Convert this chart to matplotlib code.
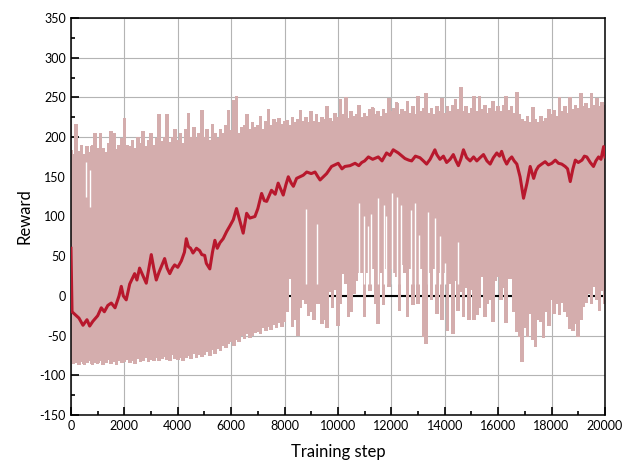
import numpy as np
import matplotlib
matplotlib.use("Agg")
import matplotlib.pyplot as plt
from matplotlib.ticker import MultipleLocator

# raw reward band, read per 100 training steps
band_step = np.arange(0, 20001, 100)
band_top = [
    183, 178, 216, 182, 190, 178, 188, 180, 190, 204,
    185, 204, 186, 180, 192, 207, 205, 184, 190, 198,
    223, 190, 188, 196, 186, 200, 192, 207, 188, 196,
    205, 190, 198, 228, 194, 200, 228, 193, 200, 210,
    196, 205, 192, 210, 230, 200, 212, 198, 205, 234,
    200, 210, 196, 216, 204, 198, 210, 205, 215, 234,
    208, 246, 251, 205, 212, 215, 228, 210, 218, 212,
    215, 226, 210, 220, 235, 215, 222, 218, 224, 216,
    220, 221, 215, 225, 218, 222, 234, 220, 225, 218,
    232, 220, 228, 218, 225, 222, 239, 224, 220, 230,
    225, 247, 228, 250, 224, 232, 226, 228, 240, 225,
    230, 226, 235, 237, 228, 232, 226, 235, 230, 249,
    232, 236, 243, 228, 235, 232, 245, 230, 238, 228,
    251, 232, 236, 255, 230, 236, 228, 238, 232, 248,
    230, 238, 232, 240, 247, 235, 263, 232, 238, 230,
    236, 251, 232, 251, 235, 240, 230, 236, 245, 232,
    238, 232, 240, 251, 234, 238, 230, 256, 228, 222,
    220, 226, 218, 237, 222, 218, 226, 220, 224, 235,
    228, 234, 226, 250, 232, 238, 230, 250, 235, 240,
    236, 255, 238, 242, 236, 255, 240, 248, 238, 244,
    240]
band_low = [
    -82, -85, -84, -87, -83, -86, -84, -81, -86, -84,
    -85, -82, -86, -84, -80, -85, -83, -86, -82, -84,
    -83, -80, -84, -82, -85, -79, -83, -81, -78, -83,
    -80, -82, -77, -81, -79, -76, -80, -82, -74, -79,
    -80, -77, -82, -78, -75, -79, -73, -77, -74, -76,
    -74, -70, -75, -68, -72, -66, -69, -63, -65, -60,
    -57, -62, -55, -58, -50, -54, -48, -52, -50, -46,
    -45, -48, -40, -44, -38, -42, -36, -40, -34, -38,
    -32, -20, 22, -38, -30, -50, -15, -5, -10, -25,
    -20, -30, -10, -10, -35, -30, -40, 5, -15, 8,
    -37, -9, 28, 15, -26, -20, 3, 20, 30, 30,
    -26, 30, 7, 35, -10, -35, 30, -11, 35, 12,
    35, 30, 25, -18, 40, 30, -26, 35, -11, 30,
    -9, 35, -51, -60, 30, -5, 35, -22, 30, -30,
    30, -43, 16, -48, 20, -18, 5, -26, 10, -30,
    8, -30, -24, -15, 24, -26, -9, -5, -32, 20,
    24, -5, 10, -34, 22, 22, -20, -45, -51, -83,
    -40, -51, -22, -55, -64, -30, -32, -53, -20, -37,
    -5, -22, -10, -24, -8, -20, -26, -41, -43, -35,
    -51, -30, -13, -8, 3, -9, 12, -5, -18, 7,
    -9]

# narrow gaps inside the band (steps where no episode covered that range)
gap_step = [575, 720, 8800, 9220, 10790, 10980, 11130, 11230, 11490, 11710,
            11790, 12010, 12200, 12360, 12730, 12880, 13030, 13360, 13630,
            13820, 14010, 14480]
gap_low = [125, 112, 15, 15, 15, 15, 15, 15, 15, 15,
           15, 15, 15, 15, 15, 15, 15, 15, 15,
           15, 15, 15]
gap_high = [168, 158, 110, 91, 117, 100, 88, 103, 123, 114,
            100, 129, 125, 114, 108, 117, 77, 106, 98,
            75, 41, 68]

# smoothed reward
smooth_step = [0, 40, 200, 300, 450, 600, 700, 820, 1000, 1135, 1250, 1380, 1510,
               1650, 1800, 1885, 1960, 2070, 2200, 2385, 2470, 2570, 2700, 2820,
               2920, 3008, 3100, 3195, 3300, 3400, 3508, 3600, 3700, 3800, 3883,
               4000, 4133, 4250, 4320, 4400, 4480, 4570, 4700, 4820, 4900, 5008,
               5070, 5200, 5300, 5390, 5480, 5580, 5700, 5830, 5950, 6080, 6200,
               6320, 6450, 6580, 6700, 6890, 7000, 7140, 7240, 7330, 7510, 7650,
               7760, 7850, 7950, 8050, 8140, 8250, 8330, 8450, 8575, 8700, 8830,
               9000, 9140, 9250, 9330, 9450, 9575, 9760, 9890, 10010, 10150, 10260,
               10450, 10640, 10780, 10890, 11000, 11140, 11300, 11510, 11650, 11820,
               11950, 12070, 12260, 12400, 12510, 12650, 12760, 12900, 13070, 13200,
               13320, 13450, 13630, 13700, 13820, 13950, 14070, 14200, 14320, 14420,
               14510, 14600, 14700, 14820, 14950, 15080, 15200, 15320, 15450, 15580,
               15700, 15820, 15950, 16050, 16130, 16230, 16320, 16420, 16510, 16600,
               16700, 16820, 16950, 17080, 17200, 17330, 17420, 17510, 17630, 17760,
               17880, 18010, 18140, 18260, 18380, 18510, 18600, 18700, 18800, 18890,
               19000, 19140, 19230, 19320, 19450, 19570, 19660, 19760, 19850, 19950,
               20000]
smooth_reward = [60, -20, -25, -28, -37, -30, -38, -32, -25, -15, -20, -12, -9,
                 -15, 0, 12, 0, -5, 15, 28, 20, 35, 25, 16,
                 35, 52, 35, 20, 30, 38, 47, 35, 28, 35, 39,
                 36, 44, 55, 72, 62, 60, 54, 60, 57, 52, 51,
                 41, 34, 55, 70, 60, 67, 72, 81, 88, 96, 110,
                 95, 79, 104, 98, 100, 110, 129, 120, 119, 133, 128,
                 142, 135, 127, 140, 150, 142, 138, 148, 150, 152, 156,
                 154, 156, 150, 146, 150, 154, 163, 165, 167, 160, 163,
                 164, 167, 164, 168, 170, 175, 172, 175, 170, 180,
                 177, 184, 180, 176, 173, 171, 170, 176, 174, 170,
                 166, 172, 184, 178, 172, 176, 168, 172, 178, 170,
                 164, 172, 184, 174, 170, 175, 170, 174, 178, 170,
                 166, 174, 180, 176, 182, 172, 166, 172, 175, 170,
                 166, 150, 123, 142, 163, 148, 158, 163, 166, 169,
                 165, 167, 171, 167, 166, 163, 160, 144, 160, 171,
                 168, 171, 176, 175, 168, 163, 170, 175, 172, 188,
                 175]

band_color = "#d4adad"
line_color = "#b8182d"

plt.rcParams["font.family"] = ["Lato", "DejaVu Sans"]
plt.rcParams["axes.unicode_minus"] = False

fig = plt.figure(figsize=(6.22, 4.61), dpi=100)
ax = fig.add_axes([0.1141, 0.0998, 0.8585, 0.8612])

# zero reference line, hidden wherever the band covers it
ax.hlines(0, 8000, 20000, colors="black", linewidth=1.5, zorder=0.6)

# band outline as one stepped polygon (each reading covers +-50 steps)
half = 50
edge_x = np.clip(np.repeat(band_step, 2) + np.tile([-half, half], len(band_step)),
                 0, 20000)
edge_low = np.repeat(band_low, 2)
edge_top = np.repeat(band_top, 2)
ax.fill(np.concatenate([edge_x, edge_x[::-1]]),
        np.concatenate([edge_low, edge_top[::-1]]),
        color=band_color, linewidth=0, antialiased=False, snap=False, zorder=1)
ax.vlines(gap_step, gap_low, gap_high, colors="white", linewidth=1.0, zorder=1.5)

ax.plot(smooth_step, smooth_reward, color=line_color, linewidth=2.2, zorder=3)

ax.set_xlim(0, 20000)
ax.set_ylim(-150, 350)
ax.xaxis.set_major_locator(MultipleLocator(2000))
ax.xaxis.set_minor_locator(MultipleLocator(1000))
ax.yaxis.set_major_locator(MultipleLocator(50))
ax.yaxis.set_minor_locator(MultipleLocator(25))
ax.tick_params(which="both", direction="in", top=False, right=False,
               width=1.2, labelsize=9, colors="black")
ax.tick_params(which="major", length=6)
ax.tick_params(which="minor", length=3)
ax.set_axisbelow(True)
ax.grid(True, which="major", color="#b4b4b4", linewidth=0.8)
for sp in ax.spines.values():
    sp.set_linewidth(1.1)
    sp.set_color("black")

ax.set_xlabel("Training step", fontsize=12, labelpad=9)
ax.set_ylabel("Reward", fontsize=12, labelpad=5)

fig.savefig("out.png", dpi=100)
